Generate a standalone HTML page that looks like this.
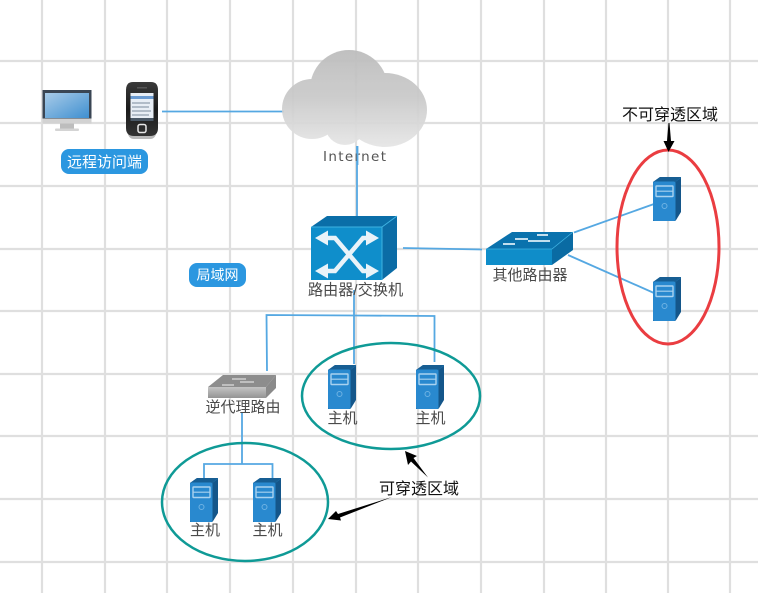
<!DOCTYPE html>
<html><head><meta charset="utf-8"><style>
html,body{margin:0;padding:0;background:#fff}
svg{display:block;filter:blur(.3px)}
text{font-family:"Liberation Sans","Noto Sans CJK SC",sans-serif}
</style></head><body>
<svg width="758" height="593" viewBox="0 0 758 593" xmlns="http://www.w3.org/2000/svg">
<defs>
<linearGradient id="cl" gradientUnits="userSpaceOnUse" x1="0" y1="50" x2="0" y2="147"><stop offset="0" stop-color="#bcbcbc"/><stop offset=".5" stop-color="#cacaca"/><stop offset="1" stop-color="#e6e6e6"/></linearGradient>
<linearGradient id="scr" x1="0" y1="0" x2="1" y2="1"><stop offset="0" stop-color="#a8cbe8"/><stop offset="1" stop-color="#3f8fd0"/></linearGradient>
<linearGradient id="grey" x1="0" y1="0" x2="0" y2="1"><stop offset="0" stop-color="#c4c4c4"/><stop offset="1" stop-color="#949494"/></linearGradient>
<linearGradient id="phone" x1="0" y1="0" x2="0" y2="1"><stop offset="0" stop-color="#3a3a3a"/><stop offset=".5" stop-color="#1a1a1a"/><stop offset="1" stop-color="#333"/></linearGradient>
<g id="srv">
<path d="M0 5 L7 0 H28 V34 L22 44 H0Z" fill="#1f6fa8"/>
<path d="M0 5 L7 0 H28 L22 5Z" fill="#175e93"/>
<path d="M22.500 5 L28 1 V35 L22.500 44Z" fill="#14568a"/>
<rect x="0" y="4.500" width="22.500" height="39.500" rx="2" fill="#2989cf"/>
<rect x="3" y="9" width="17" height="10.500" rx=".5" fill="none" stroke="#a9d2ef" stroke-width="1.400"/>
<line x1="3" y1="14.200" x2="20" y2="14.200" stroke="#a9d2ef" stroke-width="1.200"/>
<circle cx="11.500" cy="29" r="2.500" fill="none" stroke="#6db2e3"/>
</g>
</defs>
<rect width="758" height="593" fill="#fff"/>
<g stroke="#dfdfdf" stroke-width="2.200" fill="none">
<path d="M42 0V593M105 0V593M167 0V593M230 0V593M293 0V593M356 0V593M418 0V593M481 0V593M544 0V593M606 0V593M668 0V593M730 0V593"/>
<path d="M0 61H758M0 123H758M0 186H758M0 249H758M0 311H758M0 374H758M0 436H758M0 499H758M0 562H758"/>
</g>

<!-- connectors -->
<g stroke="#55a8e2" stroke-width="1.800" fill="none">
<path d="M162 111.500H284"/>
<path d="M357 146V226"/>
<path d="M403 248L482 249.500"/>
<path d="M574 232.500L654 204"/>
<path d="M568 255L654 293"/>
<path d="M267 371L266.500 315L354 315.500L434.500 316V362"/>
<path d="M354 290V364"/>
<path d="M242 412V464"/>
<path d="M204 478V464H272.500V478"/>
</g>

<!-- ellipses -->
<ellipse cx="391" cy="396" rx="89" ry="53" fill="none" stroke="#0f9a96" stroke-width="2.500"/>
<ellipse cx="245" cy="502" rx="83" ry="59" fill="none" stroke="#0f9a96" stroke-width="2.500"/>
<ellipse cx="668" cy="247" rx="51" ry="97" fill="none" stroke="#ea3d41" stroke-width="3"/>

<!-- monitor -->
<rect x="42.500" y="90" width="49" height="32" fill="#3a4654"/>
<rect x="45" y="93" width="44" height="25" fill="url(#scr)"/>
<rect x="42.500" y="118.500" width="49" height="5" fill="#d2d2d2"/>
<rect x="60" y="123.500" width="14" height="5" fill="#bdbdbd"/>
<rect x="55" y="128.500" width="24" height="2.500" rx="1" fill="#d4d4d4"/>

<!-- phone -->
<path d="M127 130 H157 Q156 139 150 139 H134 Q128 139 127 130Z" fill="#b9b9b9"/>
<path d="M126 128 V90 Q126 82 133 82 H151 Q158 82 158 90 V128 Q158 136 150 136 H134 Q126 136 126 128Z" fill="url(#phone)"/>
<rect x="130.500" y="93" width="23" height="28" fill="#e8eef5"/>
<rect x="130.500" y="96" width="23" height="3" fill="#6b9bd1"/>
<g stroke="#7a8a9c" stroke-width="1"><path d="M132 103H150M132 107H149M132 111H151M132 115H149"/></g>
<rect x="130.500" y="118" width="23" height="3" fill="#4a5866"/>
<rect x="138" y="124.500" width="8" height="8" rx="2" fill="none" stroke="#e8e8e8" stroke-width="1.500"/>
<rect x="137" y="87" width="10" height="1.500" fill="#555"/>

<!-- labels -->
<rect x="61" y="149" width="87" height="25" rx="8" fill="#2b97e0"/>
<text x="104.500" y="167" font-size="15" fill="#fff" text-anchor="middle">远程访问端</text>
<rect x="189" y="263" width="57" height="24" rx="8" fill="#2b97e0"/>
<text x="217.500" y="280" font-size="14" fill="#fff" text-anchor="middle">局域网</text>

<!-- cloud -->
<g fill="url(#cl)" opacity=".93">
<circle cx="349" cy="89" r="39"/>
<circle cx="312" cy="109" r="30"/>
<ellipse cx="385" cy="110" rx="42" ry="37"/>
<circle cx="345" cy="125" r="20"/>
</g>
<text x="354.500" y="161" font-size="13.500" fill="#555" text-anchor="middle" textLength="63" lengthAdjust="spacing" style='font-family:"DejaVu Sans",sans-serif'>Internet</text>
<path d="M357.500 146V165" stroke="#55a8e2" stroke-width="1.800"/>

<!-- core switch -->
<path d="M311 227 L327 216 H397 L382 227Z" fill="#0a6ea8"/>
<path d="M382 227 L397 216 V268 L382 280Z" fill="#0b6ca6"/>
<rect x="311" y="227" width="71" height="53" fill="#0f8ecb"/>
<path d="M311 227H382V280M382 227L397 216" fill="none" stroke="#3fb3e2" stroke-width="1"/>
<g fill="none" stroke="#e9f3f9" stroke-width="4.500">
<path d="M322 238H335L363 271H370"/>
<path d="M322 271H335L363 238H370"/>
</g>
<g fill="#e9f3f9">
<path d="M315 238L328 230.500V245.500Z"/>
<path d="M379 238L366 230.500V245.500Z"/>
<path d="M315 271L328 263.500V278.500Z"/>
<path d="M379 271L366 263.500V278.500Z"/>
</g>
<text x="355.500" y="295" font-size="15.200" fill="#4a4a4a" text-anchor="middle">路由器/交换机</text>

<!-- other router -->
<path d="M486 249 L512 232 H573 L552 249Z" fill="#0a72ad"/>
<path d="M552 249 L573 232 V250 L552 265Z" fill="#0a6ba3"/>
<rect x="486" y="249" width="66" height="16" fill="#0f8dc9"/>
<path d="M486 249H552L573 232" fill="none" stroke="#3fb3e2" stroke-width=".8"/>
<g stroke="#dcedf7" stroke-width="1.800" fill="none"><path d="M503 244H515M515 239H528M528 241H550M537 235H548"/></g>
<text x="530" y="280" font-size="15" fill="#4a4a4a" text-anchor="middle">其他路由器</text>

<!-- grey router -->
<path d="M208 387 L223 375 H276 L266 387Z" fill="#8d8d8d"/>
<path d="M266 387 L276 375 V388 L266 398Z" fill="#8a8a8a"/>
<rect x="208" y="387" width="58" height="11" fill="url(#grey)"/>
<g stroke="#d0d0d0" stroke-width="1.400" fill="none"><path d="M222 385H234M240 382H254M232 379H246"/></g>
<text x="243" y="412" font-size="15" fill="#4a4a4a" text-anchor="middle">逆代理路由</text>

<!-- servers -->
<use href="#srv" x="653" y="177"/>
<use href="#srv" x="653" y="277"/>
<use href="#srv" x="328" y="365"/>
<use href="#srv" x="416" y="365"/>
<use href="#srv" x="190" y="478"/>
<use href="#srv" x="253" y="478"/>
<g font-size="15" fill="#4a4a4a" text-anchor="middle">
<text x="342.500" y="423">主机</text>
<text x="430.500" y="423">主机</text>
<text x="205" y="535">主机</text>
<text x="267.500" y="535">主机</text>
</g>

<!-- annotations -->
<text x="670" y="120" font-size="16" fill="#111" text-anchor="middle">不可穿透区域</text>
<path d="M668.500 123 L669.500 123 L671 141 L674.500 141 L668.500 152 L663.500 141 L667 141Z" fill="#000"/>
<text x="419" y="494" font-size="16" fill="#111" text-anchor="middle">可穿透区域</text>
<path d="M405 451 L417 456 L413.500 458 L428 477.500 L411 461.500 L408 465Z" fill="#000"/>
<path d="M328 519 L336 511 L338 514 L392 497 L340 517.500 L341 520.500Z" fill="#000"/>
</svg>
</body></html>
